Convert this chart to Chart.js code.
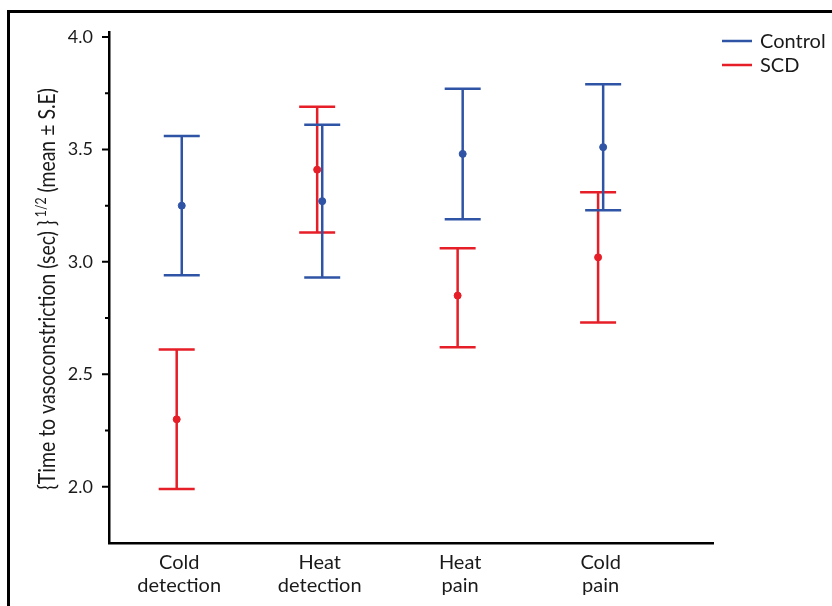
<!DOCTYPE html>
<html>
<head>
<meta charset="utf-8">
<script src="https://cdn.jsdelivr.net/npm/chart.js@4.4.0/dist/chart.umd.min.js"></script>
<style>
  html, body { margin: 0; padding: 0; background: #ffffff; }
  #wrap { position: relative; width: 832px; height: 606px; }
</style>
</head>
<body>
<div id="wrap"><canvas id="c" width="832" height="606"></canvas></div>
<script>
// ---- Data ----
const categories = [['Cold', 'detection'], ['Heat', 'detection'], ['Heat', 'pain'], ['Cold', 'pain']];
const seriesNames = ['Control', 'SCD'];
const controlMean = [3.25, 3.27, 3.48, 3.51];
const controlLow  = [2.94, 2.93, 3.19, 3.23];
const controlHigh = [3.56, 3.61, 3.77, 3.79];
const scdMean = [2.30, 3.41, 2.85, 3.02];
const scdLow  = [1.99, 3.13, 2.62, 2.73];
const scdHigh = [2.61, 3.69, 3.06, 3.31];
const yMajorTicks = [2.0, 2.5, 3.0, 3.5, 4.0];
const yMinorTicks = [2.25, 2.75, 3.25, 3.75];

const BLUE = '#2f54a5';
const RED = '#e61e27';
const FONT = 'Lato, "Open Sans", sans-serif';
const TEXT = '#1a1a1a';

const groupOffset = 0.018;
const controlPoints = controlMean.map((v, i) => ({ x: i + 1 + groupOffset, y: v }));
const scdPoints = scdMean.map((v, i) => ({ x: i + 1 - groupOffset, y: v }));
const errLow = [controlLow, scdLow];
const errHigh = [controlHigh, scdHigh];

const errorBarPlugin = {
  id: 'errorBars',
  beforeDatasetsDraw(chart) {
    const ctx = chart.ctx;
    const ys = chart.scales.y;
    // draw SCD first, Control on top
    [1, 0].forEach(di => {
      const meta = chart.getDatasetMeta(di);
      const color = chart.data.datasets[di].borderColor;
      meta.data.forEach((pt, i) => {
        const x = pt.x;
        const yl = ys.getPixelForValue(errLow[di][i]);
        const yh = ys.getPixelForValue(errHigh[di][i]);
        ctx.save();
        ctx.strokeStyle = color;
        ctx.lineWidth = 2.5;
        ctx.beginPath();
        ctx.moveTo(x, yl); ctx.lineTo(x, yh);
        ctx.moveTo(x - 18, yl); ctx.lineTo(x + 18, yl);
        ctx.moveTo(x - 18, yh); ctx.lineTo(x + 18, yh);
        ctx.stroke();
        ctx.restore();
      });
    });
  }
};

const decorPlugin = {
  id: 'decor',
  beforeDraw(chart) {
    const ctx = chart.ctx;
    ctx.save();
    ctx.fillStyle = '#ffffff';
    ctx.fillRect(0, 0, chart.width, chart.height);
    ctx.fillStyle = '#000000';
    ctx.fillRect(7, 10, chart.width - 7, 3);
    ctx.fillRect(7, 10, 3, chart.height - 10);
    ctx.restore();
  },
  afterDraw(chart) {
    const ctx = chart.ctx;
    const ys = chart.scales.y;
    const axX = chart.chartArea.left;
    ctx.save();
    // y tick marks (major longer, minor shorter)
    ctx.strokeStyle = '#000';
    ctx.lineWidth = 2;
    ctx.beginPath();
    yMajorTicks.forEach(v => { const p = ys.getPixelForValue(v); ctx.moveTo(axX - 7, p); ctx.lineTo(axX, p); });
    yMinorTicks.forEach(v => { const p = ys.getPixelForValue(v); ctx.moveTo(axX - 4, p); ctx.lineTo(axX, p); });
    ctx.stroke();

    // Legend
    const legendX = 722, legendY = [41, 65], legendColors = [BLUE, RED];
    seriesNames.forEach((name, i) => {
      ctx.strokeStyle = legendColors[i];
      ctx.lineWidth = 2.5;
      ctx.beginPath();
      ctx.moveTo(legendX, legendY[i]); ctx.lineTo(legendX + 30, legendY[i]);
      ctx.stroke();
      ctx.fillStyle = TEXT;
      ctx.font = '20px ' + FONT;
      ctx.textBaseline = 'middle';
      ctx.textAlign = 'left';
      ctx.fillText(name, legendX + 38, legendY[i] + 1);
    });

    // Rotated y-axis title with superscript
    const parts = [
      { t: '{Time to vasoconstriction (sec) }', f: '24px ' + FONT, dy: 0 },
      { t: ' 1/2', f: '15px ' + FONT, dy: -9 },
      { t: ' (mean \u00B1 S.E)', f: '24px ' + FONT, dy: 0 }
    ];
    let W = 0;
    parts.forEach(p => { ctx.font = p.f; p.w = ctx.measureText(p.t).width; W += p.w; });
    const targetLen = 402;
    const s = targetLen / W;
    ctx.translate(54.5, 289);
    ctx.rotate(-Math.PI / 2);
    ctx.scale(s, 1);
    ctx.fillStyle = TEXT;
    ctx.textBaseline = 'alphabetic';
    ctx.textAlign = 'left';
    let x = -W / 2;
    parts.forEach(p => { ctx.font = p.f; ctx.fillText(p.t, x, p.dy); x += p.w; });
    ctx.restore();
  }
};

new Chart(document.getElementById('c'), {
  type: 'scatter',
  data: {
    datasets: [
      { label: seriesNames[0], data: controlPoints, borderColor: BLUE, backgroundColor: BLUE, pointRadius: 3.5, pointHoverRadius: 3.5, showLine: false },
      { label: seriesNames[1], data: scdPoints, borderColor: RED, backgroundColor: RED, pointRadius: 3.5, pointHoverRadius: 3.5, showLine: false }
    ]
  },
  options: {
    responsive: false,
    animation: false,
    events: [],
    layout: { padding: { top: 32, right: 119, bottom: 0, left: 0 } },
    plugins: { legend: { display: false }, tooltip: { enabled: false }, title: { display: false } },
    scales: {
      x: {
        type: 'linear',
        min: 0.5,
        max: 4.8,
        afterBuildTicks(scale) { scale.ticks = categories.map((c, i) => ({ value: i + 1 })); },
        afterFit(scale) { scale.height = 63; },
        grid: { display: false, drawTicks: false },
        border: { display: true, color: '#000', width: 2.5 },
        ticks: {
          autoSkip: false,
          maxRotation: 0,
          padding: 8,
          color: TEXT,
          font: { family: FONT, size: 20, lineHeight: 1.15 },
          callback(value) { return categories[Math.round(value) - 1]; }
        }
      },
      y: {
        min: 1.75,
        max: 4.022,
        afterBuildTicks(scale) { scale.ticks = yMajorTicks.map(v => ({ value: v })); },
        afterFit(scale) { scale.width = 109; },
        grid: { display: false, drawTicks: false },
        border: { display: true, color: '#000', width: 2.5 },
        ticks: {
          padding: 16,
          color: TEXT,
          font: { family: FONT, size: 18 },
          callback(value) { return value.toFixed(1); }
        }
      }
    }
  },
  plugins: [errorBarPlugin, decorPlugin]
});
</script>
</body>
</html>
